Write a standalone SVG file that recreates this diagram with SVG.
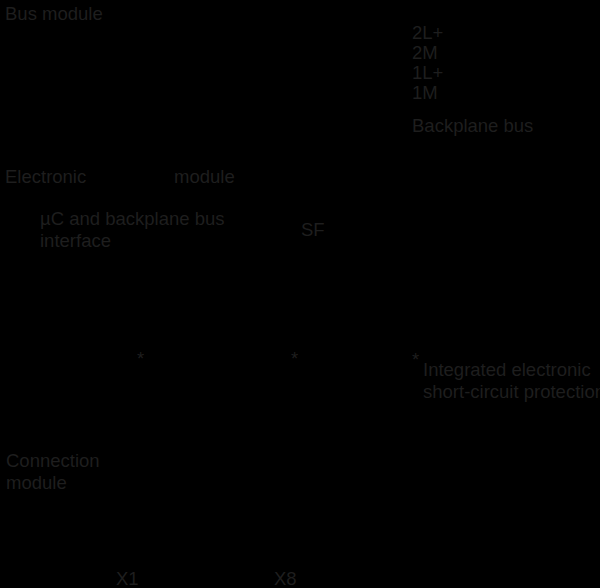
<svg xmlns="http://www.w3.org/2000/svg" width="600" height="588" viewBox="0 0 600 588">
<style>
text{font-family:"Liberation Sans",Arial,sans-serif;font-size:18.5px;fill:#1e1e1e}
</style>
<rect x="0" y="0" width="600" height="588" fill="#000"/>
<g id="bus-module"><text x="5" y="20">Bus module</text></g>
<g id="supply">
<text x="412" y="39">2L+</text>
<text x="412" y="59">2M</text>
<text x="412" y="79">1L+</text>
<text x="412" y="99">1M</text>
<text x="412" y="132">Backplane bus</text>
</g>
<g id="electronic-module"><text x="5" y="183">Electronic</text><text x="174" y="183">module</text></g>
<g id="uc"><text x="40" y="225">µC and backplane bus</text><text x="40" y="247">interface</text></g>
<g id="sf"><text x="301" y="236">SF</text></g>
<g id="stars">
<text x="137" y="365">*</text>
<text x="291" y="365">*</text>
<text x="412" y="366">*</text>
</g>
<g id="protection"><text x="423" y="376">Integrated electronic</text><text x="423" y="398">short-circuit protection</text></g>
<g id="connection-module"><text x="6" y="467">Connection</text><text x="6" y="489">module</text></g>
<g id="terminals"><text x="116" y="585">X1</text><text x="274" y="585">X8</text></g>
<g id="connectors"></g>
</svg>
